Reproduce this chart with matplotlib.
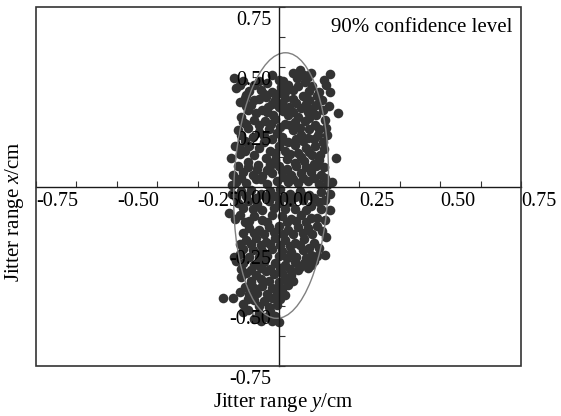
import numpy as np
import matplotlib
matplotlib.use("Agg")
import matplotlib.pyplot as plt
from matplotlib.patches import Ellipse, Rectangle
from matplotlib.transforms import ScaledTranslation

plt.rcParams['font.family'] = 'Liberation Serif'
plt.rcParams['mathtext.fontset'] = 'custom'
plt.rcParams['mathtext.rm'] = 'Liberation Serif'
plt.rcParams['mathtext.it'] = 'Liberation Serif:italic'
plt.rcParams['axes.unicode_minus'] = False

# jitter points, (y jitter on horizontal, x jitter on vertical)
jitter_y = [
    # top
    -0.137, -0.131, -0.110, -0.100, -0.075, -0.055, -0.035, -0.020, 0.000, 0.008, 0.003, 0.030,
    0.044, 0.045, 0.066, 0.078, 0.056, 0.091, 0.081, 0.105, 0.148, 0.159, 0.158,
    -0.120, -0.090, -0.060, -0.045, 0.015, 0.020, 0.060, 0.095, 0.125, 0.140, 0.100, -0.020,
    # 0.30 .. 0.40
    -0.120, -0.085, -0.060, -0.040, -0.033, -0.012, 0.003, 0.019, 0.034, 0.055, 0.070, 0.075,
    0.095, 0.091, 0.117, 0.133, 0.138, 0.184, -0.069, -0.116, -0.095, -0.018, 0.029, 0.060,
    0.117, -0.050,
    -0.105, -0.075, -0.020, 0.010, 0.045, 0.085, 0.105, 0.120, -0.100, 0.015, 0.045, -0.035, 0.155,
    # 0.20 .. 0.30
    -0.111, -0.075, -0.043, -0.023, 0.019, 0.050, 0.081, 0.112, 0.143, 0.148, -0.125, -0.095,
    -0.060, -0.030, -0.005, 0.044, 0.070, 0.091, 0.122, 0.138, 0.029, 0.010, -0.020, -0.080,
    -0.105,
    -0.100, -0.060, -0.010, 0.005, 0.035, 0.065, 0.095, 0.125, 0.095, -0.045, 0.055, 0.110,
    -0.115, 0.150,
    # 0.10 .. 0.20
    -0.120, -0.090, -0.060, -0.045, -0.025, 0.000, 0.020, 0.050, 0.060, 0.085, 0.112, 0.128,
    0.105, -0.147, -0.095, -0.064, -0.040, -0.010, 0.025, 0.050, 0.080, 0.110, 0.179, -0.120,
    -0.105, -0.075, -0.010, 0.035, 0.070, 0.095, 0.140, -0.135, 0.010, 0.075, -0.025, 0.125,
    # 0.00 .. 0.10
    -0.140, -0.110, -0.080, -0.050, -0.020, 0.010, 0.040, 0.070, 0.100, 0.130, -0.130, -0.100,
    -0.070, -0.035, -0.005, 0.030, 0.060, 0.090, 0.125, 0.150, 0.055, -0.025, 0.140, 0.164,
    -0.125, -0.095, -0.065, -0.035, 0.000, 0.025, 0.085, 0.115, -0.115, -0.055, 0.015, 0.045,
    0.075, 0.110, 0.145, -0.145,
    # -0.10 .. 0.00
    -0.145, -0.115, -0.085, -0.055, -0.025, 0.005, 0.035, 0.065, 0.095, 0.130, 0.160, -0.152,
    -0.125, -0.095, -0.065, -0.030, 0.000, 0.035, 0.075, 0.100, 0.125, 0.158, 0.050, -0.050,
    -0.130, -0.100, -0.070, -0.040, -0.010, 0.020, 0.050, 0.080, 0.110, 0.145, -0.110, -0.080,
    -0.015, 0.020, 0.085, 0.130,
    # -0.20 .. -0.10
    -0.120, -0.105, -0.075, -0.050, -0.020, 0.010, 0.040, 0.070, 0.100, 0.143, -0.090, -0.060,
    -0.030, 0.000, 0.030, 0.060, 0.090, 0.120, 0.148, -0.110,
    -0.135, -0.090, -0.035, 0.025, 0.055, 0.085, 0.120, -0.075, -0.045, -0.015, 0.015, 0.045,
    0.075, 0.105, 0.135,
    # -0.30 .. -0.20
    -0.100, -0.070, -0.040, -0.010, 0.020, 0.050, 0.080, 0.110, -0.137, -0.110, -0.080, -0.050,
    -0.020, 0.010, 0.040, 0.075, 0.100, 0.143, -0.090, 0.025, 0.125,
    -0.120, -0.085, -0.055, -0.025, 0.005, 0.035, 0.065, 0.095, -0.060, -0.035, 0.000, 0.055,
    0.085, 0.120, -0.120,
    # -0.40 .. -0.30
    -0.130, -0.110, -0.075, -0.045, -0.010, 0.020, 0.050, 0.080, 0.110, 0.091, -0.100, -0.070,
    -0.040, -0.015, 0.010, 0.040, 0.060, -0.030, 0.000, -0.085,
    -0.115, -0.085, -0.055, -0.025, 0.005, 0.035, 0.065, 0.100, -0.115, -0.055, 0.020, 0.045,
    -0.060,
    # -0.50 .. -0.40
    -0.105, -0.075, -0.050, -0.020, 0.010, 0.030, -0.090, -0.173, -0.142, -0.110, -0.075, -0.045,
    -0.020, 0.005, -0.030,
    -0.120, -0.065, -0.035, -0.005, 0.020, -0.095, -0.060, -0.005, -0.085, 0.000,
    # bottom
    -0.095, -0.060, -0.040, -0.010, 0.003, -0.075, -0.110, -0.025, -0.055, -0.020,
]
jitter_x = [
    # top
    0.452, 0.410, 0.440, 0.382, 0.425, 0.405, 0.432, 0.395, 0.445, 0.417, 0.389, 0.425,
    0.403, 0.475, 0.488, 0.466, 0.452, 0.459, 0.438, 0.420, 0.424, 0.470, 0.396,
    0.425, 0.400, 0.440, 0.385, 0.440, 0.395, 0.420, 0.400, 0.395, 0.445, 0.475, 0.465,
    # 0.30 .. 0.40
    0.355, 0.340, 0.365, 0.375, 0.333, 0.361, 0.333, 0.369, 0.333, 0.348, 0.327, 0.380,
    0.360, 0.313, 0.340, 0.361, 0.320, 0.306, 0.306, 0.292, 0.318, 0.299, 0.300, 0.292,
    0.299, 0.320,
    0.370, 0.360, 0.345, 0.350, 0.365, 0.345, 0.325, 0.380, 0.335, 0.315, 0.310, 0.310, 0.335,
    # 0.20 .. 0.30
    0.270, 0.278, 0.275, 0.262, 0.262, 0.268, 0.272, 0.258, 0.278, 0.245, 0.235, 0.245,
    0.228, 0.240, 0.225, 0.236, 0.215, 0.201, 0.215, 0.187, 0.187, 0.205, 0.200, 0.205,
    0.190,
    0.260, 0.255, 0.280, 0.250, 0.255, 0.245, 0.240, 0.240, 0.285, 0.210, 0.200, 0.200,
    0.215, 0.215,
    # 0.10 .. 0.20
    0.160, 0.170, 0.160, 0.185, 0.150, 0.170, 0.150, 0.175, 0.140, 0.160, 0.170, 0.130,
    0.130, 0.118, 0.104, 0.090, 0.120, 0.110, 0.115, 0.100, 0.108, 0.095, 0.118, 0.135,
    0.150, 0.130, 0.140, 0.135, 0.125, 0.145, 0.155, 0.170, 0.190, 0.190, 0.095, 0.110,
    # 0.00 .. 0.10
    0.050, 0.060, 0.050, 0.045, 0.055, 0.065, 0.050, 0.055, 0.060, 0.050, 0.020, 0.015,
    0.030, 0.012, 0.025, 0.020, 0.015, 0.025, 0.012, 0.005, 0.085, 0.085, 0.080, 0.020,
    0.085, 0.080, 0.075, 0.070, 0.085, 0.075, 0.080, 0.085, 0.035, 0.030, 0.040, 0.030,
    0.035, 0.035, 0.035, 0.005,
    # -0.10 .. 0.00
    -0.030, -0.020, -0.015, -0.030, -0.020, -0.010, -0.030, -0.020, -0.035, -0.025, -0.030, -0.112,
    -0.070, -0.060, -0.075, -0.060, -0.070, -0.065, -0.055, -0.080, -0.065, -0.098, -0.095, -0.100,
    -0.045, -0.040, -0.050, -0.045, -0.040, -0.045, -0.045, -0.040, -0.050, -0.055, -0.090, -0.095,
    -0.090, -0.095, -0.100, -0.095,
    # -0.20 .. -0.10
    -0.120, -0.150, -0.125, -0.140, -0.120, -0.125, -0.135, -0.120, -0.130, -0.140, -0.175, -0.180,
    -0.170, -0.165, -0.180, -0.170, -0.175, -0.165, -0.210, -0.195,
    -0.135, -0.145, -0.150, -0.150, -0.145, -0.150, -0.130, -0.195, -0.200, -0.190, -0.200, -0.200,
    -0.195, -0.200, -0.185,
    # -0.30 .. -0.20
    -0.225, -0.215, -0.230, -0.215, -0.225, -0.235, -0.220, -0.235, -0.293, -0.260, -0.265, -0.270,
    -0.260, -0.270, -0.275, -0.265, -0.285, -0.286, -0.295, -0.300, -0.255,
    -0.240, -0.240, -0.245, -0.240, -0.245, -0.250, -0.245, -0.255, -0.295, -0.290, -0.290, -0.295,
    -0.300, -0.290, -0.280,
    # -0.40 .. -0.30
    -0.310, -0.320, -0.330, -0.315, -0.320, -0.330, -0.315, -0.320, -0.310, -0.342, -0.360, -0.370,
    -0.355, -0.365, -0.360, -0.370, -0.350, -0.395, -0.400, -0.395,
    -0.345, -0.350, -0.340, -0.345, -0.340, -0.345, -0.335, -0.330, -0.380, -0.385, -0.385, -0.395,
    -0.310,
    # -0.50 .. -0.40
    -0.420, -0.425, -0.415, -0.425, -0.430, -0.410, -0.450, -0.467, -0.467, -0.490, -0.475, -0.480,
    -0.465, -0.470, -0.505,
    -0.440, -0.445, -0.450, -0.445, -0.455, -0.470, -0.500, -0.495, -0.405, -0.415,
    # bottom
    -0.515, -0.530, -0.545, -0.540, -0.565, -0.555, -0.525, -0.520, -0.560, -0.560,
]

# 90% confidence ellipse
ell_center = (0.008, 0.004)
ell_width = 0.292
ell_height = 1.11
ell_angle = -1.5

tick_vals = [-0.75, -0.50, -0.25, 0.00, 0.25, 0.50, 0.75]
tick_text = ['-0.75', '-0.50', '-0.25', '0.00', '0.25', '0.50', '0.75']
minor_vals = [-0.625, -0.375, -0.125, 0.125, 0.375, 0.625]

fig = plt.figure(figsize=(5.61, 4.16), dpi=100)
ax = fig.add_axes([36 / 561, 1 - 366 / 416, 485 / 561, 359 / 416])

ax.scatter(jitter_y, jitter_x, s=48, color='#333333', linewidths=0, zorder=1)
ax.add_patch(Ellipse(ell_center, ell_width, ell_height, angle=ell_angle,
                     fill=False, edgecolor='#808080', lw=1.0, zorder=2))

ax.set_xlim(-0.75, 0.75)
ax.set_ylim(-0.75, 0.75)

# axes through the origin, plus a plain frame
ax.spines['left'].set_position('zero')
ax.spines['bottom'].set_position('zero')
ax.spines['top'].set_visible(False)
ax.spines['right'].set_visible(False)
for s in ['left', 'bottom']:
    ax.spines[s].set_linewidth(1.0)
    ax.spines[s].set_color('#1a1a1a')
ax.add_patch(Rectangle((0, 0), 1, 1, transform=ax.transAxes, fill=False,
                       edgecolor='#333333', lw=1.2, clip_on=False, zorder=3))

ax.set_xticks(tick_vals)
ax.set_xticklabels(tick_text)
ax.set_yticks(tick_vals)
ax.set_yticklabels(tick_text)
ax.set_xticks(minor_vals, minor=True)
ax.set_yticks(minor_vals, minor=True)
ax.tick_params(which='both', direction='in', length=4, width=0.8, color='#333333')
ax.tick_params(axis='x', labelsize=14.5, pad=4)
ax.tick_params(axis='y', labelsize=14.5, pad=5)

for lab in ax.get_xticklabels():
    lab.set_horizontalalignment('left')
for lab in ax.get_yticklabels():
    lab.set_verticalalignment('top')
    lab.set_transform(lab.get_transform() + ScaledTranslation(0, -0.04, fig.dpi_scale_trans))

ax.text(0.983, 0.942, '90% confidence level', transform=ax.transAxes,
        ha='right', va='center', fontsize=15)

fig.text(283 / 561, 1 - 403 / 416, 'Jitter range $y$/cm', ha='center', va='center', fontsize=15)
fig.text(15 / 561, 1 - 212 / 416, 'Jitter range $x$/cm', ha='center', va='center',
         rotation=90, fontsize=15)

fig.savefig('out.png', dpi=100)
